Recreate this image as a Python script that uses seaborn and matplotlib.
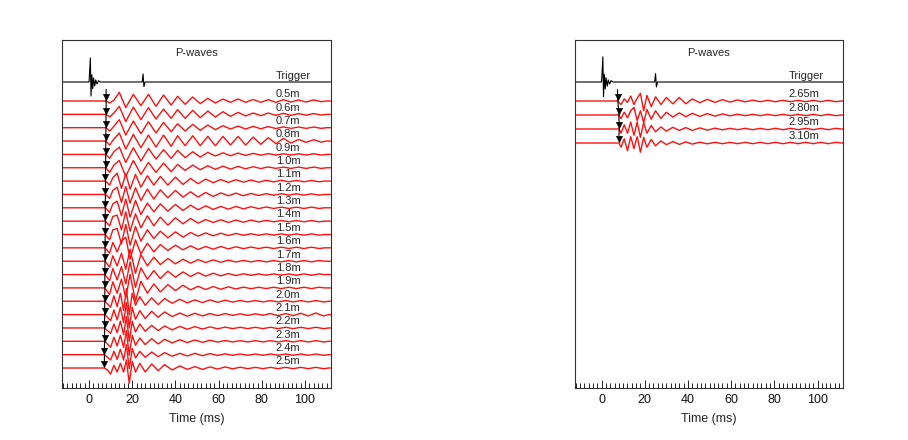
import numpy as np
import pandas as pd
import matplotlib
matplotlib.use("Agg")
import matplotlib.pyplot as plt
from matplotlib.ticker import MultipleLocator
import seaborn as sns

# ---------------- data ----------------
left_labels = ["0.5m", "0.6m", "0.7m", "0.8m", "0.9m", "1.0m", "1.1m", "1.2m", "1.3m",
               "1.4m", "1.5m", "1.6m", "1.7m", "1.8m", "1.9m", "2.0m", "2.1m", "2.2m",
               "2.3m", "2.4m", "2.5m"]
left_arrivals = [7.9, 7.9, 7.8, 7.8, 7.7, 7.7, 7.6, 7.6, 7.5, 7.5, 7.5, 7.4, 7.4, 7.3,
                 7.3, 7.3, 7.2, 7.2, 7.2, 7.1, 7.1]
right_labels = ["2.65m", "2.80m", "2.95m", "3.10m"]
right_arrivals = [7.4, 7.9, 8.2, 8.0]

# extremum times (ms) of the wave trains
times_a = [9.5, 11.5, 14, 17, 20.5, 24, 27.5, 31, 34.5, 38, 41, 44.5, 48, 51.5, 55, 58.5,
           62, 65.5, 69, 72.5, 76, 79.5, 83, 86.5, 90, 93.5, 97, 100.5, 104, 107.5]
times_b = [9.5, 11, 13, 15, 17, 19, 21.5, 24, 27, 30, 33, 36.5, 40, 43.5, 47, 50.5, 54,
           57.5, 61, 64.5, 68, 71.5, 75, 78.5, 82, 85.5, 89, 92.5, 96, 99.5, 103, 106.5]
times_c = [8.5, 10, 11.5, 13, 14.5, 16, 17.3, 18.6, 20, 21.5, 23.5, 26, 29, 32, 35, 38.5,
           42, 45.5, 49, 52.5, 56, 59.5, 63, 66.5, 70, 73.5, 77, 80.5, 84, 87.5, 91, 94.5,
           98, 101.5, 105, 108.5]
times_d = [9, 10.5, 12, 13.5, 15, 16.5, 18, 19.5, 21, 23, 25, 27.5, 30, 33, 36, 39, 42,
           45.5, 49, 52.5, 56, 59.5, 63, 66.5, 70, 73.5, 77, 80.5, 84, 87.5, 91, 94.5, 98,
           101.5, 105, 108.5]

# extremum amplitudes (in trace spacings)
amp_05 = [-0.15, 0.05, 0.65, -0.5, 0.5, -0.35, 0.5, -0.4, 0.45, -0.3, 0.35, -0.25, 0.3, -0.2, 0.2, -0.15, 0.15, -0.1, 0.15, -0.1, 0.12, -0.1, 0.1, -0.1, 0.1, -0.08, 0.08, -0.08, 0.08, -0.05]
amp_06 = [-0.2, 0.1, 0.6, -0.55, 0.55, -0.4, 0.5, -0.35, 0.4, -0.3, 0.35, -0.3, 0.3, -0.25, 0.25, -0.2, 0.2, -0.15, 0.15, -0.12, 0.1, -0.1, 0.1, -0.08, 0.08, -0.08, 0.06, -0.06, 0.06, -0.05]
amp_07 = [-0.25, 0.1, 0.6, -0.55, 0.5, -0.45, 0.45, -0.4, 0.4, -0.3, 0.3, -0.25, 0.25, -0.2, 0.2, -0.15, 0.15, -0.1, 0.12, -0.1, 0.1, -0.08, 0.08, -0.06, 0.06, -0.05, 0.05, -0.05, 0.05, -0.05]
amp_08 = [-0.3, 0.15, 0.6, -0.6, 0.5, -0.5, 0.45, -0.45, 0.45, -0.4, 0.4, -0.35, 0.4, -0.35, 0.35, -0.35, 0.35, -0.3, 0.35, -0.3, 0.3, -0.25, 0.25, -0.2, 0.2, -0.15, 0.12, -0.1, 0.1, -0.08]
amp_09 = [-0.3, 0.2, 0.55, -0.6, 0.5, -0.5, 0.45, -0.35, 0.35, -0.3, 0.3, -0.25, 0.2, -0.2, 0.15, -0.12, 0.12, -0.1, 0.1, -0.08, 0.08, -0.06, 0.06, -0.05, 0.05, -0.05, 0.05, -0.05, 0.05, -0.05]
amp_10 = [-0.35, 0.2, 0.55, -0.65, 0.55, -0.5, 0.4, -0.35, 0.35, -0.3, 0.25, -0.2, 0.2, -0.15, 0.15, -0.12, 0.12, -0.1, 0.1, -0.08, 0.08, -0.06, 0.06, -0.05, 0.05, -0.05, 0.05, -0.05, 0.05, -0.05]
amp_11 = [-0.3, 0.25, 0.6, -0.55, 0.55, -0.6, 0.5, -0.45, 0.4, -0.3, 0.35, -0.3, 0.3, -0.25, 0.2, -0.2, 0.15, -0.12, 0.12, -0.1, 0.1, -0.08, 0.08, -0.08, 0.06, -0.06, 0.06, -0.05, 0.05, -0.05, 0.05, -0.05]
amp_12 = [-0.3, 0.3, 0.55, -0.6, 0.6, -0.65, 0.5, -0.45, 0.4, -0.35, 0.35, -0.25, 0.3, -0.2, 0.2, -0.2, 0.15, -0.15, 0.12, -0.1, 0.1, -0.1, 0.08, -0.08, 0.06, -0.06, 0.06, -0.05, 0.05, -0.05, 0.05, -0.05]
amp_13 = [-0.35, 0.3, 0.5, -0.6, 0.65, -0.7, 0.55, -0.5, 0.35, -0.3, 0.3, -0.25, 0.25, -0.2, 0.2, -0.15, 0.15, -0.12, 0.1, -0.1, 0.1, -0.08, 0.08, -0.06, 0.06, -0.05, 0.05, -0.05, 0.05, -0.05, 0.05, -0.05]
amp_14 = [-0.35, 0.35, 0.45, -0.65, 0.7, -0.75, 0.55, -0.5, 0.4, -0.35, 0.3, -0.3, 0.25, -0.2, 0.2, -0.15, 0.12, -0.1, 0.1, -0.1, 0.08, -0.08, 0.08, -0.06, 0.06, -0.05, 0.05, -0.05, 0.05, -0.05, 0.05, -0.05]
amp_15 = [-0.4, 0.35, 0.45, -0.7, 0.75, -0.8, 0.6, -0.5, 0.35, -0.3, 0.25, -0.25, 0.2, -0.2, 0.15, -0.12, 0.12, -0.1, 0.1, -0.08, 0.08, -0.06, 0.06, -0.06, 0.05, -0.05, 0.05, -0.05, 0.05, -0.05, 0.05, -0.05]
amp_16 = [-0.4, 0.4, -0.3, 0.5, 0.8, -0.85, 0.6, -0.45, 0.35, -0.3, 0.25, -0.2, 0.2, -0.15, 0.15, -0.12, 0.1, -0.1, 0.1, -0.08, 0.08, -0.06, 0.06, -0.05, 0.05, -0.05, 0.05, -0.05, 0.05, -0.05, 0.05, -0.05]
amp_17 = [-0.45, 0.4, -0.35, 0.6, -0.6, 0.9, -0.9, 0.5, -0.35, 0.3, -0.25, 0.2, -0.2, 0.15, -0.15, 0.12, -0.1, 0.1, -0.08, 0.08, -0.06, 0.06, -0.05, 0.05, -0.05, 0.05, -0.05, 0.05, -0.05, 0.05, -0.05, 0.05]
amp_18 = [-0.45, 0.45, -0.4, 0.6, -0.7, 0.95, -0.95, 0.5, -0.35, 0.3, -0.3, 0.25, -0.2, 0.2, -0.15, 0.15, -0.12, 0.1, -0.1, 0.08, -0.08, 0.06, -0.06, 0.05, -0.05, 0.05, -0.05, 0.05, -0.05, 0.05, -0.05, 0.05]
amp_19 = [-0.5, 0.45, -0.4, 0.65, -0.75, 1.0, -1.0, 0.5, -0.4, 0.3, -0.3, 0.25, -0.2, 0.2, -0.15, 0.12, -0.12, 0.1, -0.1, 0.08, -0.08, 0.06, -0.06, 0.05, -0.05, 0.05, -0.05, 0.05, -0.05, 0.05, -0.05, 0.05]
amp_20 = [-0.2, -0.45, 0.4, -0.4, 0.6, -0.7, 0.95, -1.0, 0.6, -0.3, 0.35, -0.3, 0.25, -0.25, 0.2, -0.15, 0.15, -0.12, 0.1, -0.1, 0.1, -0.08, 0.08, -0.06, 0.06, -0.05, 0.05, -0.05, 0.05, -0.05, 0.05, -0.05, 0.05, -0.05, 0.05, -0.05]
amp_21 = [-0.2, -0.45, 0.35, -0.4, 0.55, -0.6, 0.9, -1.0, 0.55, -0.35, 0.3, -0.3, 0.25, -0.2, 0.2, -0.15, 0.12, -0.12, 0.1, -0.1, 0.08, -0.08, 0.08, -0.06, 0.06, -0.06, 0.06, -0.05, 0.08, -0.08, 0.08, -0.08, 0.1, -0.1, 0.12, -0.1]
amp_22 = [-0.2, -0.4, 0.3, -0.35, 0.5, -0.5, 0.85, -1.0, 0.5, -0.3, 0.3, -0.25, 0.2, -0.2, 0.15, -0.15, 0.12, -0.1, 0.1, -0.08, 0.08, -0.06, 0.06, -0.05, 0.05, -0.05, 0.05, -0.05, 0.05, -0.05, 0.05, -0.05, 0.05, -0.05, 0.05, -0.05]
amp_23 = [-0.2, -0.45, 0.3, -0.35, 0.45, -0.45, 0.8, -1.05, 0.45, -0.3, 0.25, -0.25, 0.2, -0.2, 0.15, -0.12, 0.12, -0.1, 0.1, -0.08, 0.08, -0.06, 0.06, -0.05, 0.05, -0.05, 0.05, -0.05, 0.05, -0.05, 0.05, -0.05, 0.05, -0.05, 0.05, -0.05]
amp_24 = [-0.2, -0.4, 0.25, -0.35, 0.4, -0.4, 0.75, -1.05, 0.45, -0.25, 0.25, -0.2, 0.2, -0.15, 0.15, -0.12, 0.1, -0.1, 0.1, -0.08, 0.08, -0.06, 0.06, -0.05, 0.05, -0.05, 0.05, -0.05, 0.05, -0.05, 0.05, -0.05, 0.05, -0.05, 0.05, -0.05]
amp_25 = [-0.15, -0.45, 0.2, -0.3, 0.35, -0.3, 0.6, -1.15, 0.5, -0.3, 0.35, -0.3, 0.3, -0.2, 0.25, -0.15, 0.15, -0.1, 0.1, -0.1, 0.08, -0.08, 0.08, -0.06, 0.06, -0.05, 0.05, -0.05, 0.05, -0.05, 0.05, -0.05, 0.05, -0.05, 0.05, -0.05]

amp_265 = [-0.25, 0.15, -0.1, 0.35, -0.25, 0.2, 0.55, -0.7, 0.4, -0.4, 0.3, -0.25, 0.25, -0.2, 0.25, -0.2, 0.15, -0.12, 0.12, -0.1, 0.1, -0.08, 0.08, -0.06, 0.06, -0.05, 0.05, -0.05, 0.05, -0.05, 0.05, -0.05, 0.05, -0.05, 0.05, -0.05]
amp_280 = [-0.25, 0.2, -0.2, 0.3, 0.55, -0.4, 0.3, -0.55, 0.4, -0.3, 0.3, -0.25, 0.2, -0.15, 0.15, -0.12, 0.12, -0.1, 0.1, -0.08, 0.08, -0.06, 0.06, -0.05, 0.05, -0.05, 0.05, -0.05, 0.05, -0.05, 0.05, -0.05, 0.05, -0.05, 0.05, -0.05]
amp_295 = [-0.3, 0.3, -0.3, 0.5, -0.45, 0.5, -0.6, 0.45, -0.3, 0.25, -0.2, 0.15, -0.15, 0.12, -0.1, 0.1, -0.1, 0.08, -0.08, 0.06, -0.06, 0.05, -0.05, 0.05, -0.05, 0.05, -0.05, 0.05, -0.05, 0.05, -0.05, 0.05, -0.05, 0.05, -0.05, 0.05]
amp_310 = [-0.3, 0.3, -0.55, 0.45, -0.4, 0.45, -0.65, 0.4, -0.3, 0.25, -0.2, 0.15, -0.12, 0.1, -0.1, 0.08, -0.08, 0.06, -0.06, 0.05, -0.05, 0.05, -0.05, 0.05, -0.05, 0.05, -0.05, 0.05, -0.05, 0.05, -0.05, 0.05, -0.05, 0.05, -0.05, 0.05]

# trigger signal
trig_t = [0.0, 0.6, 0.9, 1.3, 1.7, 2.1, 2.6, 3.1, 3.7, 4.4, 5.2, 24.6, 25.0, 25.4, 25.9]
trig_a = [0.0, 1.8, -1.05, 0.55, -0.5, 0.3, -0.3, 0.15, -0.15, 0.1, 0.0, 0.0, 0.6, -0.35, 0.0]

left_waves = [(times_a, amp_05), (times_a, amp_06), (times_a, amp_07), (times_a, amp_08),
              (times_a, amp_09), (times_a, amp_10), (times_b, amp_11), (times_b, amp_12),
              (times_b, amp_13), (times_b, amp_14), (times_b, amp_15), (times_b, amp_16),
              (times_b, amp_17), (times_b, amp_18), (times_b, amp_19), (times_c, amp_20),
              (times_c, amp_21), (times_c, amp_22), (times_c, amp_23), (times_c, amp_24),
              (times_c, amp_25)]
right_waves = [(times_d, amp_265), (times_d, amp_280), (times_d, amp_295), (times_d, amp_310)]

XMIN, XMAX = -12.3, 111.8

# ---------------- styling ----------------
sns.set_style("white")
plt.rcParams["font.family"] = ["Liberation Sans", "DejaVu Sans"]

fig = plt.figure(figsize=(9.08, 4.4), dpi=100)
W, H = 908.0, 440.0
ax_l = fig.add_axes([62.5 / W, 52 / H, 268 / W, 348 / H])
ax_r = fig.add_axes([575 / W, 52 / H, 268 / W, 348 / H])


def trace_frame(waves, arrivals, labels):
    rows = []
    for i, ((tt, aa), t0, lab) in enumerate(zip(waves, arrivals, labels)):
        xs = [XMIN, t0] + list(tt) + [tt[-1] + 2.5, XMAX]
        ys = [0.0, 0.0] + list(aa) + [0.0, 0.0]
        for k, (x, y) in enumerate(zip(xs, ys)):
            rows.append({"trace": lab, "order": k, "time": x, "y": y - i})
    return pd.DataFrame(rows)


def draw_panel(ax, waves, arrivals, labels, trig_y, ylim):
    df = trace_frame(waves, arrivals, labels)
    sns.lineplot(data=df, x="time", y="y", units="trace", estimator=None, sort=False,
                 color="#ff1010", lw=1.0, ax=ax, legend=False)
    # trigger trace
    tdf = pd.DataFrame({"time": [XMIN] + trig_t + [XMAX],
                        "y": [trig_y + v for v in [0.0] + trig_a + [0.0]]})
    sns.lineplot(data=tdf, x="time", y="y", estimator=None, sort=False,
                 color="black", lw=0.8, ax=ax)
    # arrival picks
    pick_y = [-i + 0.28 for i in range(len(arrivals))]
    adf = pd.DataFrame({"time": [arrivals[0]] + list(arrivals),
                        "y": [trig_y - 0.55] + pick_y})
    sns.lineplot(data=adf, x="time", y="y", estimator=None, sort=False,
                 color="black", lw=0.8, ax=ax)
    sns.scatterplot(data=adf.iloc[1:], x="time", y="y", marker="v", s=22,
                    color="black", edgecolor="black", linewidth=0.3, ax=ax, zorder=5)
    # labels
    ax.text(86.5, trig_y + 0.42, "Trigger", fontsize=8, ha="left", va="center")
    for i, lab in enumerate(labels):
        ax.text(86.5, -i + 0.5, lab, fontsize=8, ha="left", va="center")
    ax.text(0.5, 0.978, "P-waves", transform=ax.transAxes, fontsize=8,
            ha="center", va="top")
    ax.set_xlim(XMIN, XMAX)
    ax.set_ylim(*ylim)
    ax.set_yticks([])
    ax.set_ylabel("")
    ax.set_xlabel("Time (ms)", fontsize=9, labelpad=5)
    ax.xaxis.set_major_locator(MultipleLocator(20))
    ax.xaxis.set_minor_locator(MultipleLocator(2))
    ax.tick_params(axis="x", which="major", direction="in", length=6, width=0.7,
                   labelsize=9, pad=4, bottom=True, color="#222222", labelcolor="#111111")
    ax.tick_params(axis="x", which="minor", direction="in", length=3.5, width=0.7,
                   bottom=True, color="#222222")
    for sp in ax.spines.values():
        sp.set_color("#333333")
        sp.set_linewidth(0.8)


s_l = 13.35
draw_panel(ax_l, left_waves, left_arrivals, left_labels, 19 / s_l,
           (-(388 - 101) / s_l, (101 - 40) / s_l))
s_r = 14.0
draw_panel(ax_r, right_waves, right_arrivals, right_labels, 19 / s_r,
           (-(388 - 101) / s_r, (101 - 40) / s_r))

fig.savefig("out.png", dpi=100)
